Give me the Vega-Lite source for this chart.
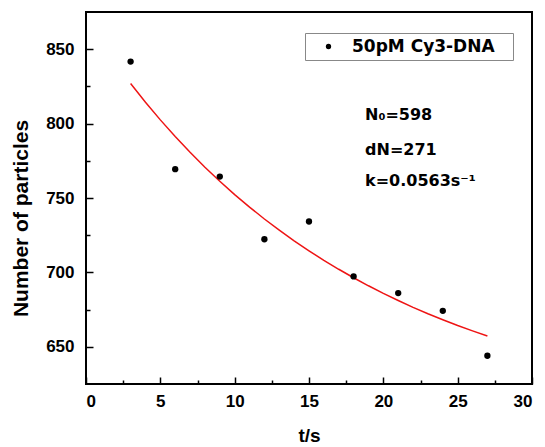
{
  "$schema": "https://vega.github.io/schema/vega-lite/v6.json",
  "width": 446,
  "height": 372,
  "padding": {"left": 86, "top": 12, "right": 13, "bottom": 63},
  "autosize": {"type": "none"},
  "background": "white",
  "config": {
    "view": {"stroke": "black", "strokeWidth": 2},
    "axis": {
      "grid": false,
      "domain": false,
      "tickColor": "black",
      "tickWidth": 1.5,
      "labelFont": "Liberation Sans",
      "labelFontWeight": "bold",
      "labelFontSize": 17,
      "labelColor": "black",
      "titleFont": "Liberation Sans",
      "titleFontWeight": "bold",
      "titleFontSize": 20,
      "titleColor": "black"
    }
  },
  "datasets": {
    "points": [
      {"t": 3, "n": 841.7, "series": "50pM Cy3-DNA"},
      {"t": 6, "n": 769.4, "series": "50pM Cy3-DNA"},
      {"t": 9, "n": 764.4, "series": "50pM Cy3-DNA"},
      {"t": 12, "n": 722.3, "series": "50pM Cy3-DNA"},
      {"t": 15, "n": 734.2, "series": "50pM Cy3-DNA"},
      {"t": 18, "n": 697.3, "series": "50pM Cy3-DNA"},
      {"t": 21, "n": 686.1, "series": "50pM Cy3-DNA"},
      {"t": 24, "n": 674.2, "series": "50pM Cy3-DNA"},
      {"t": 27, "n": 644.0, "series": "50pM Cy3-DNA"}
    ],
    "fit": [
      {"t": 3, "n": 826.9}, {"t": 4, "n": 814.4}, {"t": 5, "n": 802.5},
      {"t": 6, "n": 791.3}, {"t": 7, "n": 780.7}, {"t": 8, "n": 770.7},
      {"t": 9, "n": 761.3}, {"t": 10, "n": 752.3}, {"t": 11, "n": 743.9},
      {"t": 12, "n": 735.9}, {"t": 13, "n": 728.4}, {"t": 14, "n": 721.2},
      {"t": 15, "n": 714.5}, {"t": 16, "n": 708.1}, {"t": 17, "n": 702.1},
      {"t": 18, "n": 696.4}, {"t": 19, "n": 691.0}, {"t": 20, "n": 685.9},
      {"t": 21, "n": 681.1}, {"t": 22, "n": 676.5}, {"t": 23, "n": 672.2},
      {"t": 24, "n": 668.2}, {"t": 25, "n": 664.3}, {"t": 26, "n": 660.7},
      {"t": 27, "n": 657.3}
    ],
    "notes": [
      {"t": 18.77, "n": 802.2, "label": "N₀=598"},
      {"t": 18.77, "n": 778.7, "label": "dN=271"},
      {"t": 18.77, "n": 757.9, "label": "k=0.0563s⁻¹"}
    ]
  },
  "layer": [
    {
      "data": {"name": "fit"},
      "mark": {"type": "line", "color": "#ee1414", "strokeWidth": 1.5},
      "encoding": {
        "x": {"field": "t", "type": "quantitative", "scale": {"domain": [0, 30], "nice": false},
          "axis": {"orient": "bottom", "values": [2.5, 7.5, 12.5, 17.5, 22.5, 27.5], "offset": -4, "tickSize": 4, "labels": false, "title": null}},
        "y": {"field": "n", "type": "quantitative", "scale": {"domain": [625, 875], "nice": false, "zero": false},
          "axis": {"orient": "left", "values": [675, 725, 775, 825], "offset": -4, "tickSize": 4, "labels": false, "title": null}}
      }
    },
    {
      "data": {"name": "points"},
      "mark": {"type": "point", "filled": true, "shape": "circle", "size": 40, "opacity": 1},
      "encoding": {
        "x": {"field": "t", "type": "quantitative",
          "axis": {"orient": "bottom", "values": [0, 5, 10, 15, 20, 25, 30], "offset": -7, "tickSize": 7, "labelPadding": 9, "title": "t/s", "titleFontSize": 19, "titlePadding": 17}},
        "y": {"field": "n", "type": "quantitative",
          "axis": {"orient": "left", "values": [650, 700, 750, 800, 850], "offset": -7, "tickSize": 7, "labelPadding": 12, "title": "Number of particles", "titleFontSize": 21, "titlePadding": 14, "titleY": 206}},
        "color": {"field": "series", "type": "nominal", "scale": {"range": ["black"]},
          "legend": {
            "orient": "none", "legendX": 219, "legendY": 21,
            "title": null,
            "padding": 5,
            "strokeColor": "#888888",
            "fillColor": "white",
            "symbolSize": 28,
            "symbolOffset": 10,
            "labelOffset": 15,
            "labelFont": "DejaVu Sans",
            "labelFontWeight": "bold",
            "labelFontSize": 17,
            "labelColor": "black",
            "labelLimit": 400,
            "labelExpr": "datum.label + '\u2800'"
          }}
      }
    },
    {
      "data": {"name": "notes"},
      "mark": {"type": "text", "align": "left", "baseline": "alphabetic", "font": "DejaVu Sans", "fontWeight": "bold", "fontSize": 16, "color": "black"},
      "encoding": {
        "x": {"field": "t", "type": "quantitative", "axis": null},
        "y": {"field": "n", "type": "quantitative", "axis": null},
        "text": {"field": "label"}
      }
    }
  ],
  "resolve": {"axis": {"x": "independent", "y": "independent"}}
}
